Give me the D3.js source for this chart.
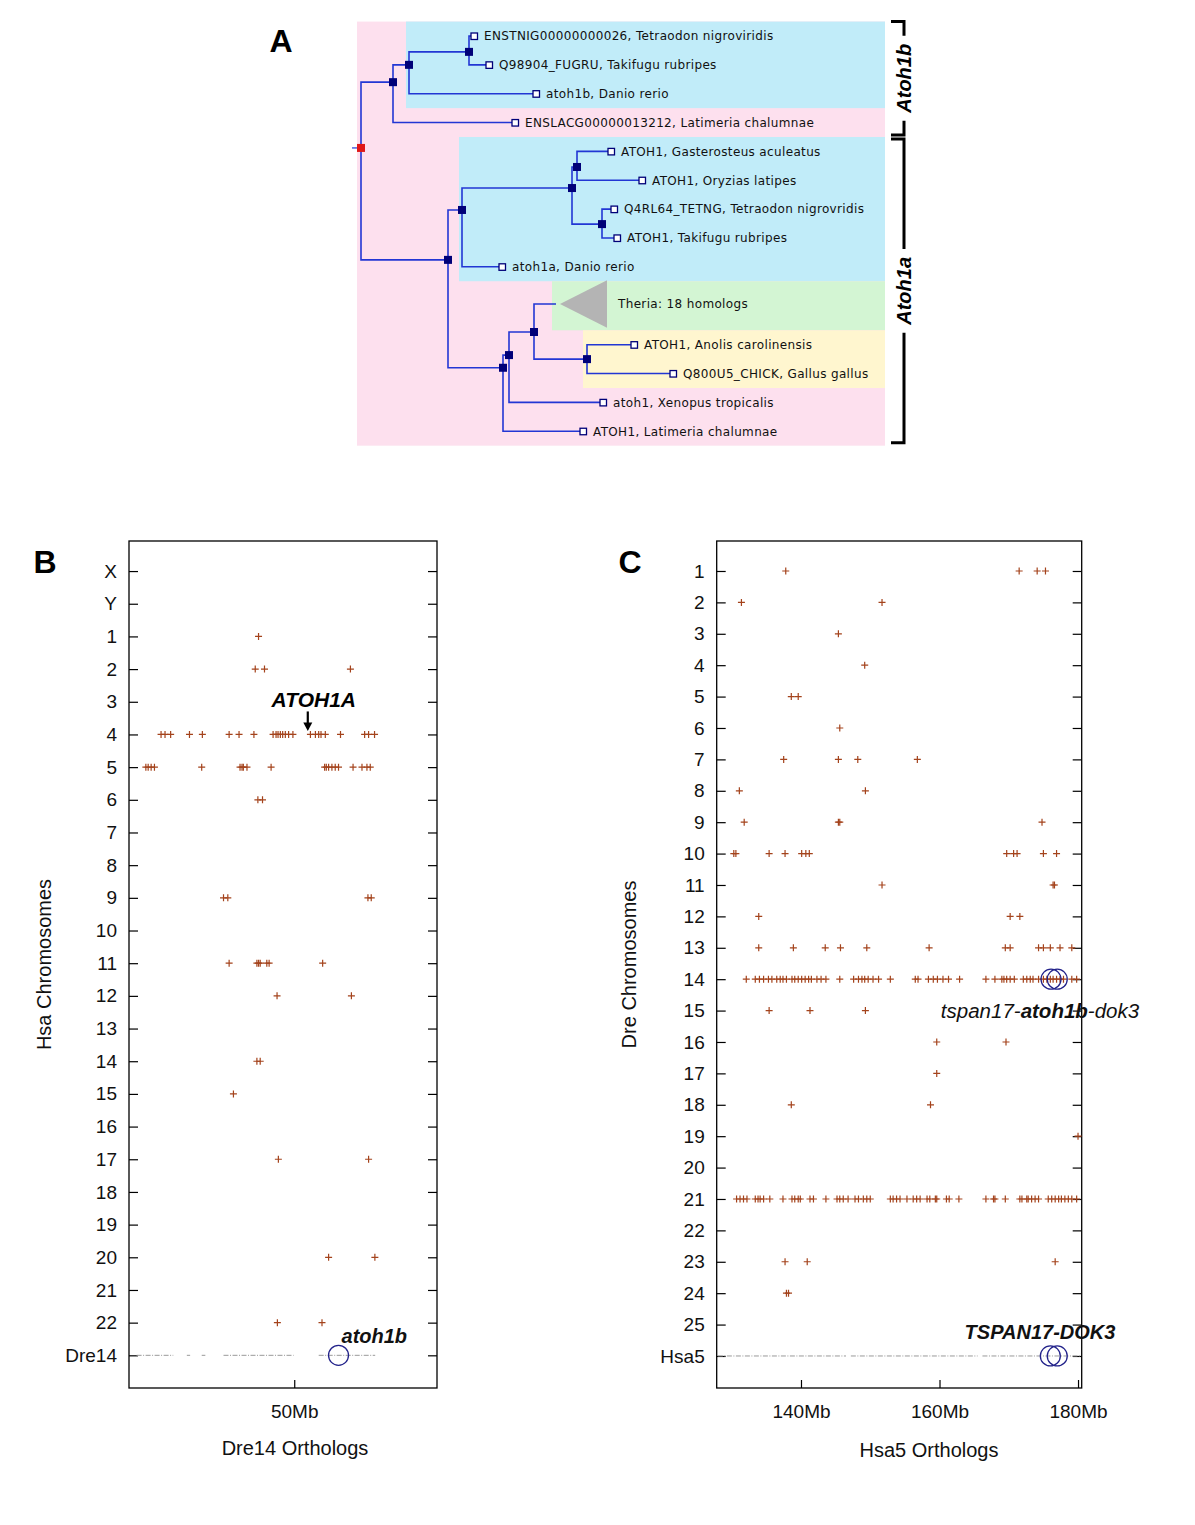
<!DOCTYPE html>
<html><head><meta charset="utf-8">
<script src="https://cdn.jsdelivr.net/npm/d3@7"></script>
<style>body{margin:0;background:#fff}svg{display:block}</style>
</head><body>
<svg id="fig" width="1195" height="1525"></svg>
<script>
// ---------------- Panel A: gene tree ----------------
const treeNodes = [
  {id:"root", parent:null,  dist:0,   row:3.88},
  {id:"n1",  parent:"root", dist:32,  row:1.6},
  {id:"n2",  parent:"n1",   dist:48,  row:1.0},
  {id:"n3",  parent:"n2",   dist:108, row:0.55},
  {id:"l1",  parent:"n3",   dist:113, row:0,    label:"ENSTNIG00000000026, Tetraodon nigroviridis"},
  {id:"l2",  parent:"n3",   dist:128, row:1,    label:"Q98904_FUGRU, Takifugu rubripes"},
  {id:"l3",  parent:"n2",   dist:175, row:2,    label:"atoh1b, Danio rerio"},
  {id:"l4",  parent:"n1",   dist:154, row:3,    label:"ENSLACG00000013212, Latimeria chalumnae"},
  {id:"n4",  parent:"root", dist:87,  row:7.76},
  {id:"n5",  parent:"n4",   dist:101, row:6.03},
  {id:"n6",  parent:"n5",   dist:211, row:5.27},
  {id:"n7",  parent:"n6",   dist:216, row:4.54},
  {id:"l5",  parent:"n7",   dist:250, row:4,    label:"ATOH1, Gasterosteus aculeatus"},
  {id:"l6",  parent:"n7",   dist:281, row:5,    label:"ATOH1, Oryzias latipes"},
  {id:"n8",  parent:"n6",   dist:241, row:6.52},
  {id:"l7",  parent:"n8",   dist:253, row:6,    label:"Q4RL64_TETNG, Tetraodon nigrovridis"},
  {id:"l8",  parent:"n8",   dist:256, row:7,    label:"ATOH1, Takifugu rubripes"},
  {id:"l9",  parent:"n5",   dist:141, row:8,    label:"atoh1a, Danio rerio"},
  {id:"n9",  parent:"n4",   dist:142, row:11.5},
  {id:"n10", parent:"n9",   dist:148, row:11.06},
  {id:"n11", parent:"n10",  dist:173, row:10.26},
  {id:"n12", parent:"n11",  dist:195, row:9.29, collapsed:"Theria: 18 homologs"},
  {id:"n13", parent:"n11",  dist:226, row:11.2},
  {id:"l11", parent:"n13",  dist:273, row:10.7, label:"ATOH1, Anolis carolinensis"},
  {id:"l12", parent:"n13",  dist:312, row:11.7, label:"Q800U5_CHICK, Gallus gallus"},
  {id:"l13", parent:"n10",  dist:242, row:12.7, label:"atoh1, Xenopus tropicalis"},
  {id:"l14", parent:"n9",   dist:222, row:13.7, label:"ATOH1, Latimeria chalumnae"}
];
const cladeBoxes = [
  {dist:-4,  rowTop:-0.5, rowBottom:14.2, color:"#fde0ee"},
  {dist:45,  rowTop:-0.5, rowBottom:2.5,  color:"#c1ecf9"},
  {dist:98,  rowTop:3.5,  rowBottom:8.5,  color:"#c1ecf9"},
  {dist:191, rowTop:8.5,  rowBottom:10.2, color:"#d3f5d3"},
  {dist:222, rowTop:10.2, rowBottom:12.2, color:"#fff6cf"}
];
const boxRightDist = 524;
const brackets = [
  {label:"Atoh1b", rowTop:-0.5, rowBottom:3.43},
  {label:"Atoh1a", rowTop:3.57, rowBottom:14.1}
];

// ---------------- Panel B: Dre14 orthologs vs human chromosomes ----------------
const hsaChroms = ["X","Y","1","2","3","4","5","6","7","8","9","10","11","12","13","14","15","16","17","18","19","20","21","22","Dre14"];
const bRows = [
  ["1",  [39.2]],
  ["2",  [38.2, 41.0, 67.0]],
  ["4",  [9.7,10.9,12.6,18.3,22.2,30.3,33.3,37.8,43.6,44.5,45.1,45.8,46.5,47.3,48.3,49.6,54.9,56.4,57.4,58.1,59.4,64.0,71.3,72.5,74.3]],
  ["5",  [5.1,5.8,6.7,7.7,22.0,33.6,34.2,34.6,35.7,43.0,59.2,59.7,60.4,61.4,62.4,63.4,67.8,70.5,72.0,73.0]],
  ["6",  [39.0, 40.4]],
  ["9",  [28.6, 29.9, 72.3, 73.3]],
  ["11", [30.3, 38.7, 39.2, 39.7, 41.7, 42.4, 58.6]],
  ["12", [44.8, 67.3]],
  ["14", [38.7, 39.7]],
  ["15", [31.6]],
  ["17", [45.2, 72.5]],
  ["20", [60.4, 74.4]],
  ["22", [44.9, 58.4]]
];
const bRefSegments = [[2.3,13.4],[17.5,18.5],[22,23.1],[28.6,49.8],[57.4,74.5]];
const bCircles = [["Dre14", 63.4]];
const bXTicks = [50];
const bAtoh1aMb = 54.1;

// ---------------- Panel C: Hsa5 orthologs vs zebrafish chromosomes ----------------
const dreChroms = ["1","2","3","4","5","6","7","8","9","10","11","12","13","14","15","16","17","18","19","20","21","22","23","24","25","Hsa5"];
const cRows = [
  ["1",  [137.8, 171.5, 174.1, 175.3]],
  ["2",  [131.4, 151.7]],
  ["3",  [145.4]],
  ["4",  [149.2]],
  ["5",  [138.6, 139.6]],
  ["6",  [145.6]],
  ["7",  [137.5, 145.4, 148.2, 156.8]],
  ["8",  [131.1, 149.3]],
  ["9",  [131.8, 145.4, 145.6, 174.8]],
  ["10", [130.3, 130.6, 135.4, 137.7, 140.1, 140.7, 141.2, 169.7, 170.7, 171.2, 175.0, 176.9]],
  ["11", [151.7, 176.4, 176.6]],
  ["12", [133.9, 170.2, 171.6]],
  ["13", [133.9, 138.9, 143.5, 145.7, 149.5, 158.5, 169.5, 170.2, 174.3, 175.0, 176.0, 177.4, 179.1]],
  ["14", [132.1,133.4,134.0,134.6,135.3,135.8,136.5,137.0,137.4,137.9,138.7,139.1,139.6,140.1,140.6,141.1,141.5,142.3,142.9,143.6,145.6,147.6,148.3,148.8,149.2,149.7,150.4,151.2,152.9,156.5,156.9,158.4,159.1,159.7,160.5,161.3,162.9,166.7,168.0,169.0,169.3,169.7,170.2,170.8,172.1,172.6,173.1,173.5,174.3,175.0,175.5,176.0,176.4,176.9,177.4,177.9,179.1,179.8]],
  ["15", [135.4, 141.3, 149.3]],
  ["16", [159.6, 169.6]],
  ["17", [159.6]],
  ["18", [138.6, 158.7]],
  ["19", [180.0]],
  ["21", [130.7,131.2,131.7,132.2,133.4,133.8,134.1,134.6,135.5,137.4,138.7,139.1,139.6,139.9,141.3,141.8,143.6,145.2,145.6,146.1,146.8,147.8,148.3,149.0,149.5,150.0,152.9,153.3,153.8,154.3,155.3,156.2,156.7,157.2,158.2,158.6,159.4,159.6,161.0,161.4,162.8,166.7,167.8,168.0,169.5,171.6,171.9,172.6,172.8,173.3,173.8,174.3,175.7,176.2,176.7,177.2,177.6,178.1,178.6,179.1,179.8]],
  ["23", [137.7, 140.9, 176.7]],
  ["24", [137.9, 138.2]]
];
const cRefSegments = [[128.0,146.5],[147.2,165.5],[166.2,180.4]];
const cCircles = [["14",176.1],["14",177.0],["Hsa5",176.0],["Hsa5",177.0]];
const cXTicks = [140, 160, 180];

// ====================================================================
const svg = d3.select("#fig");
svg.append("rect").attr("width",1195).attr("height",1525).attr("fill","#fff");
const plotFont = "'Liberation Sans', Arial, Helvetica, sans-serif";
const treeFont = "'DejaVu Sans', Verdana, sans-serif";

// ---------- Panel A ----------
const xT = d3.scaleLinear().domain([0, 320]).range([361, 681]);
const yT = d3.scaleLinear().domain([0, 1]).range([36, 64.85]);
const gA = svg.append("g");
gA.selectAll("rect.box").data(cladeBoxes).join("rect")
  .attr("x", d => xT(d.dist)).attr("y", d => yT(d.rowTop))
  .attr("width", d => xT(boxRightDist) - xT(d.dist))
  .attr("height", d => yT(d.rowBottom) - yT(d.rowTop))
  .attr("fill", d => d.color);

const root = d3.stratify().id(d => d.id).parentId(d => d.parent)(treeNodes);
const edgeColor = "#2236d4";
gA.selectAll("path.link").data(root.links()).join("path")
  .attr("d", l => `M${xT(l.source.data.dist)},${yT(l.source.data.row)}V${yT(l.target.data.row)}H${xT(l.target.data.dist)}`)
  .attr("fill","none").attr("stroke", edgeColor).attr("stroke-width",1.6);
gA.append("line").attr("x1", xT(-9)).attr("x2", xT(0))
  .attr("y1", yT(root.data.row)).attr("y2", yT(root.data.row))
  .attr("stroke", edgeColor).attr("stroke-width",1.2);

const collapsed = root.descendants().filter(d => d.data.collapsed);
gA.selectAll("path.tri").data(collapsed).join("path")
  .attr("d", d => {
    const x0 = xT(d.data.dist + 4), x1 = xT(d.data.dist + 51), y0 = yT(d.data.row), h = yT(0.82) - yT(0);
    return `M${x0},${y0}L${x1},${y0 - h}L${x1},${y0 + h}Z`;
  }).attr("fill","#b4b4b4");
gA.selectAll("text.coll").data(collapsed).join("text")
  .attr("x", d => xT(d.data.dist + 62)).attr("y", d => yT(d.data.row))
  .attr("dy","0.35em").attr("font-family", treeFont).attr("font-size",12).attr("letter-spacing",0.35).attr("fill","#111")
  .text(d => d.data.collapsed);

const internals = root.descendants().filter(d => d.children);
gA.selectAll("rect.node").data(internals).join("rect")
  .attr("x", d => xT(d.data.dist) - 4).attr("y", d => yT(d.data.row) - 4)
  .attr("width",8).attr("height",8)
  .attr("fill", d => d.parent ? "#000078" : "#e01818");
const leaves = root.leaves().filter(d => d.data.label);
gA.selectAll("rect.leaf").data(leaves).join("rect")
  .attr("x", d => xT(d.data.dist) - 3).attr("y", d => yT(d.data.row) - 3)
  .attr("width",6.5).attr("height",6.5)
  .attr("fill","#fff").attr("stroke","#000078").attr("stroke-width",1.3);
gA.selectAll("text.leaf").data(leaves).join("text")
  .attr("x", d => xT(d.data.dist) + 10).attr("y", d => yT(d.data.row))
  .attr("dy","0.36em").attr("font-family", treeFont).attr("font-size",12).attr("letter-spacing",0.35).attr("fill","#111")
  .text(d => d.data.label);

const bx = 904;
brackets.forEach(b => {
  const y0 = yT(b.rowTop), y1 = yT(b.rowBottom), ym = (y0 + y1) / 2;
  const t = gA.append("text")
    .attr("transform", `translate(${bx + 7},${ym}) rotate(-90)`)
    .attr("text-anchor","middle").attr("font-family", plotFont)
    .attr("font-size",20).attr("font-weight","bold").attr("font-style","italic")
    .attr("fill","#000").text(b.label);
  const half = t.node().getComputedTextLength() / 2 + 8;
  const p = `M${bx - 13},${y0}H${bx}V${ym - half}M${bx},${ym + half}V${y1}H${bx - 13}`;
  gA.append("path").attr("d", p).attr("fill","none").attr("stroke","#000").attr("stroke-width",3);
});

// ---------- Panels B & C ----------
function dotPlot(o) {
  const g = svg.append("g");
  const x = d3.scaleLinear().domain(o.xDomain).range([o.left, o.right]);
  const y = d3.scaleLinear().domain(o.yDomain).range([o.top, o.bottom]);
  const idx = c => o.cats.indexOf(c);

  const ya = g.append("g").attr("transform", `translate(${o.left},0)`)
    .call(d3.axisLeft(y).tickValues(d3.range(o.cats.length)).tickFormat(i => o.cats[i]).tickSize(-9).tickPadding(12));
  const yr = g.append("g").attr("transform", `translate(${o.right},0)`)
    .call(d3.axisRight(y).tickValues(d3.range(o.cats.length)).tickFormat("").tickSize(-9));
  const xa = g.append("g").attr("transform", `translate(0,${o.bottom})`)
    .call(d3.axisBottom(x).tickValues(o.xTicks).tickFormat(d => d + "Mb").tickSize(-8).tickPadding(17));
  [ya, yr, xa].forEach(a => {
    a.select(".domain").remove();
    a.attr("font-family", plotFont).attr("font-size", 19);
    a.selectAll("line").attr("stroke","#000").attr("stroke-width",1.2);
    a.selectAll("text").attr("fill","#111");
  });

  g.append("rect").attr("x", o.left).attr("y", o.top)
    .attr("width", o.right - o.left).attr("height", o.bottom - o.top)
    .attr("fill","none").attr("stroke","#000").attr("stroke-width",1.3);

  const refY = y(o.cats.length - 1);
  g.selectAll("line.ref").data(o.refSegments).join("line")
    .attr("x1", d => x(d[0])).attr("x2", d => x(d[1]))
    .attr("y1", refY).attr("y2", refY)
    .attr("stroke","#9a9a9a").attr("stroke-width",1).attr("stroke-dasharray","5,1.5,1,1.5");

  const pts = o.rows.flatMap(([chr, list]) => list.map(mb => ({chr, mb})));
  g.selectAll("path.pt").data(pts).join("path")
    .attr("d","M-3.5,0H3.5M0,-3.5V3.5")
    .attr("transform", d => `translate(${x(d.mb)},${y(idx(d.chr))})`)
    .attr("stroke","#a4431c").attr("stroke-width",1.2).attr("fill","none");

  g.selectAll("circle.hit").data(o.circles).join("circle")
    .attr("cx", d => x(d[1])).attr("cy", d => y(idx(d[0]))).attr("r",10)
    .attr("fill","none").attr("stroke","#22228a").attr("stroke-width",1.3);

  g.append("text").attr("transform", `translate(${o.yTitleX},${(o.top + o.bottom) / 2}) rotate(-90)`)
    .attr("text-anchor","middle").attr("font-family", plotFont).attr("font-size",20).attr("fill","#111")
    .text(o.yTitle);
  g.append("text").attr("x", o.xTitleX).attr("y", o.xTitleY)
    .attr("text-anchor","middle").attr("font-family", plotFont).attr("font-size",20).attr("fill","#111")
    .text(o.xTitle);
  return {g, x, y, idx};
}

const B = dotPlot({
  left:129, right:437, top:541, bottom:1388,
  xDomain:[0, 93.2], yDomain:[-0.92, 25], cats:hsaChroms,
  rows:bRows, refSegments:bRefSegments, circles:bCircles, xTicks:bXTicks,
  yTitle:"Hsa Chromosomes", yTitleX:51, xTitle:"Dre14 Orthologs", xTitleX:295, xTitleY:1455
});
const C = dotPlot({
  left:716.7, right:1081.7, top:541, bottom:1388,
  xDomain:[127.83, 180.53], yDomain:[-0.955, 26.02], cats:dreChroms,
  rows:cRows, refSegments:cRefSegments, circles:cCircles, xTicks:cXTicks,
  yTitle:"Dre Chromosomes", yTitleX:636, xTitle:"Hsa5 Orthologs", xTitleX:929, xTitleY:1457
});

// Panel B annotations
const ax = B.x(bAtoh1aMb), r4 = B.y(B.idx("4"));
B.g.append("text").attr("x", ax + 6).attr("y", B.y(B.idx("3")) + 5)
  .attr("text-anchor","middle").attr("font-family", plotFont).attr("font-size",21)
  .attr("font-weight","bold").attr("font-style","italic").attr("fill","#000").text("ATOH1A");
B.g.append("line").attr("x1", ax).attr("x2", ax).attr("y1", r4 - 23).attr("y2", r4 - 10)
  .attr("stroke","#000").attr("stroke-width",2.2);
B.g.append("path").attr("d", `M${ax - 4.5},${r4 - 12}L${ax + 4.5},${r4 - 12}L${ax},${r4 - 3.5}Z`).attr("fill","#000");
const bc = bCircles[0];
B.g.append("text").attr("x", B.x(bc[1]) + 3).attr("y", B.y(B.idx(bc[0])) - 12)
  .attr("font-family", plotFont).attr("font-size",20).attr("font-weight","bold")
  .attr("font-style","italic").attr("fill","#111").text("atoh1b");

// Panel C annotations
const t1 = C.g.append("text").attr("x", 1040).attr("y", C.y(C.idx("15")) + 7)
  .attr("text-anchor","middle").attr("font-family", plotFont).attr("font-size",20.5)
  .attr("font-style","italic").attr("fill","#111");
t1.append("tspan").text("tspan17-");
t1.append("tspan").attr("font-weight","bold").text("atoh1b");
t1.append("tspan").text("-dok3");
C.g.append("text").attr("x", 1040).attr("y", C.y(C.idx("25")) + 14)
  .attr("text-anchor","middle").attr("font-family", plotFont).attr("font-size",20)
  .attr("font-weight","bold").attr("font-style","italic").attr("fill","#111").text("TSPAN17-DOK3");

// Panel letters
const letters = [["A",281,52],["B",45,573],["C",630,573]];
svg.selectAll("text.letter").data(letters).join("text")
  .attr("x", d => d[1]).attr("y", d => d[2]).attr("text-anchor","middle")
  .attr("font-family", plotFont).attr("font-size",32).attr("font-weight","bold").attr("fill","#000")
  .text(d => d[0]);
</script>
</body></html>
